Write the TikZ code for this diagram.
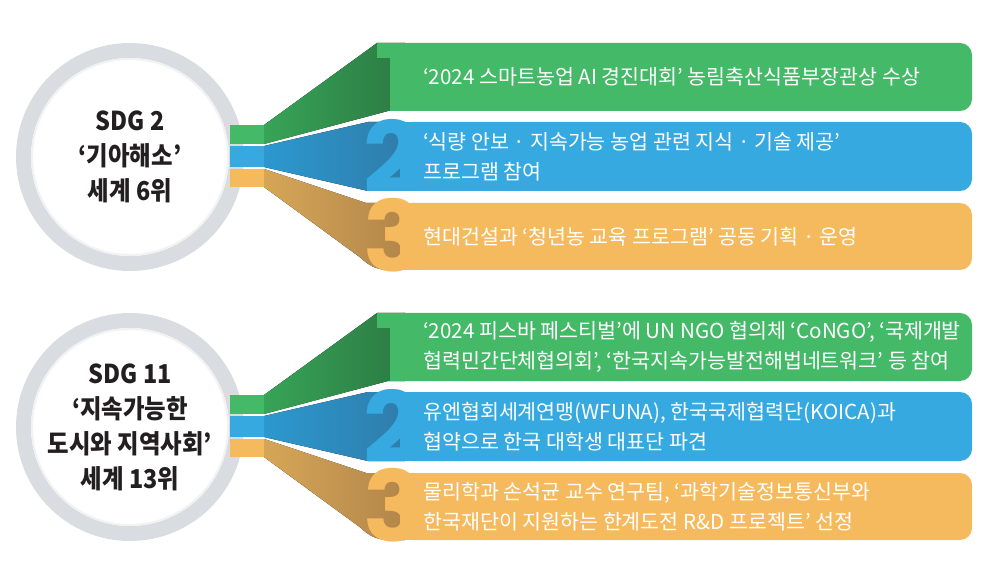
\documentclass[tikz,border=0pt]{standalone}
\usepackage{fontspec}
\setmainfont{Noto Sans CJK KR}
\newfontfamily\circfont{Noto Sans CJK KR}[FakeStretch=0.9]
\newfontfamily\numfont{Poppins}
\usetikzlibrary{positioning}

\definecolor{ringgray}{HTML}{D9DCE1}
\definecolor{ink}{HTML}{231F20}
\definecolor{grn}{HTML}{44B968}
\definecolor{grnlight}{HTML}{37A457}
\definecolor{grndark}{HTML}{2C7A43}
\definecolor{blu}{HTML}{36AAE0}
\definecolor{blulight}{HTML}{2C98CF}
\definecolor{bludark}{HTML}{2F7DAA}
\definecolor{org}{HTML}{F5BA5E}
\definecolor{orglight}{HTML}{D6A657}
\definecolor{orgdark}{HTML}{B2864A}

\tikzset{
  ring/.style={circle, draw=ringgray, line width=15pt, fill=white, minimum size=213pt,
    inner sep=0pt, text=ink, align=center, font=\circfont\bfseries\fontsize{26}{35}\selectfont},
  stub/.style={fill=#1, minimum width=34pt, inner sep=0pt, outer sep=0pt},
  bar/.style={fill=#1, rounded corners=12pt, inner sep=0pt, outer sep=0pt},
  bartext/.style={text=white, align=left, inner sep=0pt, anchor=west,
    font=\fontsize{20.6}{30}\selectfont},
  digit/.style={text=#1, inner sep=0pt, anchor=south west,
    font=\numfont\bfseries\fontsize{98}{98}\selectfont}
}

\begin{document}
\begin{tikzpicture}[x=1pt, y=-1pt, node distance=2pt]
\useasboundingbox (0,0) rectangle (1007,569);
\foreach \dy/\sdg/\ta/\tb/\tc in {
  0/{SDG 2\\‘기아해소’\\세계 6위}/{‘2024 스마트농업 AI 경진대회’ 농림축산식품부장관상 수상}/{‘식량 안보 · 지속가능 농업 관련 지식 · 기술 제공’\\프로그램 참여}/{현대건설과 ‘청년농 교육 프로그램’ 공동 기획 · 운영},
  270/{SDG 11\\‘지속가능한\\도시와 지역사회’\\세계 13위}/{‘2024 피스바 페스티벌’에 UN NGO 협의체 ‘CoNGO’, ‘국제개발\\협력민간단체협의회’, ‘한국지속가능발전해법네트워크’ 등 참여}/{유엔협회세계연맹(WFUNA), 한국국제협력단(KOICA)과\\협약으로 한국 대학생 대표단 파견}/{물리학과 손석균 교수 연구팀, ‘과학기술정보통신부와\\한국재단이 지원하는 한계도전 R\&D 프로젝트’ 선정}}{
\begin{scope}[shift={(0,\dy)}]
  % circle
  \node[ring] (sdg) at (130,157) {\sdg};
  \draw[gray!10, line width=2pt] (sdg.center) circle (98);
  % stubs
  \node[stub=grn, minimum height=19pt] (gs) at (247,134.5) {};
  \node[stub=blu, minimum height=21pt, below=of gs] (bs) {};
  \node[stub=org, minimum height=18pt, below=of bs] (os) {};
  % funnels
  \fill[left color=grnlight, right color=grndark] (gs.north east) -- (377,43) -- (405,43) -- (405,111) -- (388,111) -- (gs.south east) -- cycle;
  \fill[left color=blulight, right color=bludark] (bs.north east) -- (368,122) -- (405,122) -- (405,191) -- (368,191) -- (bs.south east) -- cycle;
  \fill[left color=orglight, right color=orgdark] (os.north east) -- (366,203) -- (405,203) -- (405,270) -- (390,270) .. controls (376,270) and (368,265) .. (361,258) -- (os.south east) -- cycle;
  % bars
  \node[bar=grn, minimum width=582pt, minimum height=68pt, anchor=west] (gb) at (390,77) {};
  \node[bar=blu, minimum width=572pt, minimum height=69pt, below=11pt of gb.south east, anchor=north east] (bb) {};
  \node[bar=org, minimum width=572pt, minimum height=67pt, below=12pt of bb.south east, anchor=north east] (ob) {};
  \fill[grn] (gb.north west) rectangle ([xshift=14pt]gb.south west);
  \fill[blu] (bb.north west) rectangle ([xshift=14pt]bb.south west);
  \fill[org] (ob.north west) rectangle ([xshift=14pt]ob.south west);
  % digits
  \fill[grn] (377,43) rectangle (391,58);
  \node[digit=blu] (two) at (363,193) {2};
  \node[digit=org] (three) at (363,272) {3};
  % texts
  \node[bartext] (gt) at (423,77) {\ta};
  \node[bartext] (bt) at (gt.west |- bb) {\tb};
  \node[bartext] (ot) at (gt.west |- ob) {\tc};
\end{scope}}
\end{tikzpicture}
\end{document}
